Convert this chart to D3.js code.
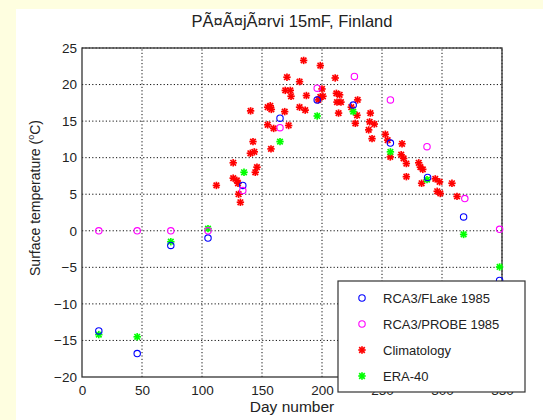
<!DOCTYPE html>
<html>
<head>
<meta charset="utf-8">
<script src="https://cdn.jsdelivr.net/npm/d3@7"></script>
<style>
  body { margin: 0; background: #fff; }
  svg { display: block; font-family: "Liberation Sans", Arial, sans-serif; }
</style>
</head>
<body>
<div id="chart"></div>
<script>
var titleText = "PÃ¤Ã¤jÃ¤rvi 15mF, Finland";
var xTicks = [0, 50, 100, 150, 200, 250, 300, 350];
var yTicks = [-20, -15, -10, -5, 0, 5, 10, 15, 20, 25];

var flake = [[14, -13.7], [46, -16.8], [74, -2.0], [105, -1.0], [134, 6.2], [165, 15.4],
    [196, 17.9], [226, 17.2], [257, 12.0], [288, 7.3], [318, 1.9], [348, -6.8]];
var probe = [[14, 0], [46, 0], [74, 0], [105, 0], [134, 5.5], [165, 14.1],
    [196, 19.5], [227, 21.1], [257, 17.9], [287.5, 11.5], [319, 4.4], [348, 0.2]];
var era = [[14, -14.2], [46, -14.5], [74, -1.5], [105, 0.3], [135, 8.0], [165, 12.2],
    [196, 15.7], [226, 16.3], [257, 10.8], [287.5, 7.0], [318, -0.5], [348, -4.95]];
var clim = [[112, 6.2], [126, 9.3], [126, 7.2], [129, 6.9], [130, 6.5], [130.5, 5.0], [132, 3.9],
    [140.5, 16.4], [142.5, 12.2], [140.3, 10.6], [143.6, 10.8], [144.4, 8.0], [145.8, 8.7],
    [154.7, 16.9], [156.9, 17.1], [157.8, 16.6], [154.7, 14.5], [159.7, 14.0], [157.5, 11.2],
    [168.9, 16.3], [172.2, 14.4], [170.8, 21.0], [169.4, 19.2], [173.6, 19.2], [174.2, 18.4],
    [181.3, 20.4], [181.3, 16.9], [184.7, 23.3], [187, 18.5], [186, 16.5], [198.6, 22.6],
    [200, 19.4], [198.6, 18.3], [200.8, 18.4], [197, 17.9], [211, 20.9], [212, 18.8],
    [214.7, 18.6], [212.5, 17.6], [215.8, 17.6], [213.8, 16.1],
    [229.7, 17.9], [224.4, 16.9], [229.2, 15.8], [227.8, 14.7], [240.3, 16.1], [239.7, 14.9],
    [243.6, 14.6], [238.9, 13.8], [241.7, 12.6],
    [252.8, 13.2], [254.7, 12.4], [266.7, 11.9], [256.9, 10.1], [266, 10.4], [268, 9.9],
    [270.3, 9.2], [270.3, 7.4],
    [280.6, 9.3], [282, 8.7], [284, 8.4], [283, 6.5], [294.4, 7.1], [298, 6.7], [296, 5.4],
    [298.6, 5.1], [308.3, 6.5], [312.5, 4.7]];

var legendItems = [
    {label: "RCA3/FLake 1985", color: "#0000ff", shape: "circle"},
    {label: "RCA3/PROBE 1985", color: "#ff00ff", shape: "circle"},
    {label: "Climatology", color: "#ff0000", shape: "star"},
    {label: "ERA-40", color: "#00ff00", shape: "star"}
];

var width = 543, height = 420;
var svg = d3.select("#chart").append("svg")
    .attr("width", width)
    .attr("height", height);

// pale yellow page edge
svg.append("rect").attr("x", 0).attr("y", 0).attr("width", width).attr("height", 9).attr("fill", "#fefee0");
svg.append("rect").attr("x", 0).attr("y", 0).attr("width", 16).attr("height", height).attr("fill", "#fefee0");

var x = d3.scaleLinear().domain([0, 350]).range([82, 502]);
var y = d3.scaleLinear().domain([-20, 25]).range([377, 48]);

// grid
var grid = svg.append("g").attr("stroke", "#111").attr("stroke-width", 1)
    .attr("stroke-dasharray", "1.2,2.2");
grid.selectAll("line.gx").data(xTicks.slice(1)).enter().append("line")
    .attr("x1", function(d) { return x(d); }).attr("x2", function(d) { return x(d); })
    .attr("y1", y(-20)).attr("y2", y(25));
grid.selectAll("line.gy").data(yTicks.slice(1)).enter().append("line")
    .attr("class", "gy")
    .attr("y1", function(d) { return y(d); }).attr("y2", function(d) { return y(d); })
    .attr("x1", x(0)).attr("x2", x(350));

// axes
var fmt = function(d) { return d < 0 ? "\u2212" + Math.abs(d) : d; };
var xAxis = svg.append("g").attr("transform", "translate(0," + y(-20) + ")")
    .call(d3.axisBottom(x).tickValues(xTicks).tickSize(0).tickPadding(8).tickFormat(fmt));
var yAxis = svg.append("g").attr("transform", "translate(" + x(0) + ",0)")
    .call(d3.axisLeft(y).tickValues(yTicks).tickSize(0).tickPadding(5).tickFormat(fmt));
[xAxis, yAxis].forEach(function(a) {
    a.select(".domain").remove();
    a.selectAll("text").attr("fill", "#222").style("font-size", "13.5px")
        .style("font-family", "'Liberation Sans', Arial, sans-serif");
});

svg.append("rect")
    .attr("x", x(0)).attr("y", y(25))
    .attr("width", x(350) - x(0)).attr("height", y(-20) - y(25))
    .attr("fill", "none").attr("stroke", "#333").attr("stroke-width", 1.3);

// markers
function star(g, d, color) {
    var s = 3.7, px = x(d[0]), py = y(d[1]);
    var p = g.append("g").attr("stroke", color).attr("stroke-width", 1.7);
    p.append("line").attr("x1", px - s).attr("x2", px + s).attr("y1", py).attr("y2", py);
    p.append("line").attr("x1", px).attr("x2", px).attr("y1", py - s).attr("y2", py + s);
    p.append("line").attr("x1", px - s * 0.75).attr("x2", px + s * 0.75).attr("y1", py - s * 0.75).attr("y2", py + s * 0.75);
    p.append("line").attr("x1", px - s * 0.75).attr("x2", px + s * 0.75).attr("y1", py + s * 0.75).attr("y2", py - s * 0.75);
}

var marks = svg.append("g");
clim.forEach(function(d) { star(marks, d, "#ff0000"); });
era.forEach(function(d) { star(marks, d, "#00ff00"); });

function circles(data, color) {
    marks.selectAll(null).data(data).enter().append("circle")
        .attr("cx", function(d) { return x(d[0]); })
        .attr("cy", function(d) { return y(d[1]); })
        .attr("r", 3.2)
        .attr("fill", "none").attr("stroke", color).attr("stroke-width", 1.1);
}
circles(flake, "#0000ff");
circles(probe, "#ff00ff");

// title and labels
svg.append("text").attr("x", 292).attr("y", 27).attr("text-anchor", "middle")
    .attr("fill", "#222").style("font-size", "16.5px").text(titleText);

svg.append("text").attr("x", 292).attr("y", 412).attr("text-anchor", "middle")
    .attr("fill", "#222").style("font-size", "15.5px").text("Day number");

var yl = svg.append("text").attr("transform", "translate(40,198) rotate(-90)")
    .attr("text-anchor", "middle").attr("fill", "#222").style("font-size", "14px");
yl.append("tspan").text("Surface temperature (");
yl.append("tspan").attr("dy", -6).style("font-size", "9px").text("o");
yl.append("tspan").attr("dy", 6).text("C)");

// legend
var lg = svg.append("g");
lg.append("rect").attr("x", 338).attr("y", 281).attr("width", 187).attr("height", 111)
    .attr("fill", "#fff").attr("stroke", "#333").attr("stroke-width", 1.2);
legendItems.forEach(function(item, k) {
    var ly = 298 + k * 26;
    if (item.shape === "circle") {
        lg.append("circle").attr("cx", 362).attr("cy", ly).attr("r", 3.2)
            .attr("fill", "none").attr("stroke", item.color).attr("stroke-width", 1.1);
    } else {
        star(lg, [x.invert(362), y.invert(ly)], item.color);
    }
    lg.append("text").attr("x", 383).attr("y", ly + 4.5).attr("fill", "#222")
        .style("font-size", "13px").text(item.label);
});
</script>
</body>
</html>
